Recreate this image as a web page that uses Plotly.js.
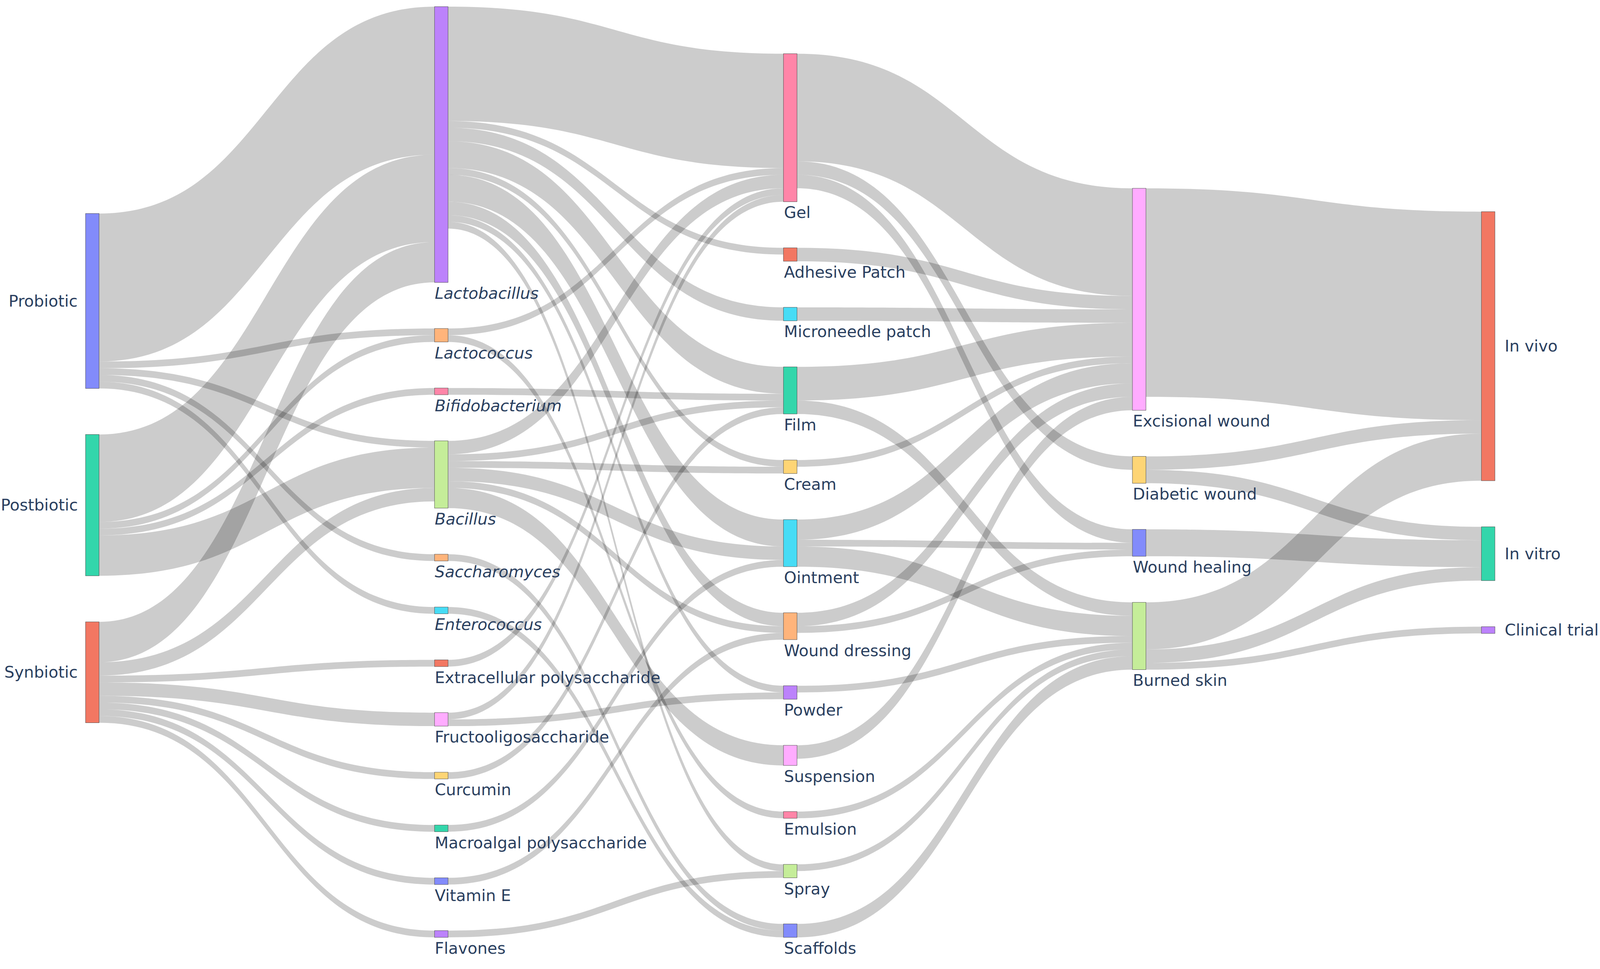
<!DOCTYPE html>
<html>
<head>
<meta charset="utf-8">
<script src="https://cdn.plot.ly/plotly-3.0.1.min.js"></script>
<style>
  html, body { margin: 0; padding: 0; background: #ffffff; overflow: hidden; }
  #chart { position: absolute; left: 0; top: 0; }
</style>
</head>
<body>
<div id="chart"></div>
<script>
// ---------------- DATA ----------------
// nodes, column by column, top to bottom
var nodeLabels = [
  "Probiotic", "Postbiotic", "Synbiotic",
  "Lactobacillus", "Lactococcus", "Bifidobacterium", "Bacillus", "Saccharomyces",
  "Enterococcus", "Extracellular polysaccharide", "Fructooligosaccharide", "Curcumin",
  "Macroalgal polysaccharide", "Vitamin E", "Flavones",
  "Gel", "Adhesive Patch", "Microneedle patch", "Film", "Cream", "Ointment",
  "Wound dressing", "Powder", "Suspension", "Emulsion", "Spray", "Scaffolds",
  "Excisional wound", "Diabetic wound", "Wound healing", "Burned skin",
  "In vivo", "In vitro", "Clinical trial"
];

// genus names shown in italics
var italicLabels = ["Lactobacillus", "Lactococcus", "Bifidobacterium", "Bacillus",
                    "Saccharomyces", "Enterococcus"];

var linkSource = [
  "Probiotic", "Probiotic", "Probiotic", "Probiotic", "Probiotic",
  "Postbiotic", "Postbiotic", "Postbiotic", "Postbiotic",
  "Synbiotic", "Synbiotic", "Synbiotic", "Synbiotic", "Synbiotic", "Synbiotic", "Synbiotic", "Synbiotic",
  "Lactobacillus", "Lactobacillus", "Lactobacillus", "Lactobacillus", "Lactobacillus",
  "Lactobacillus", "Lactobacillus", "Lactobacillus", "Lactobacillus",
  "Lactococcus", "Lactococcus",
  "Bifidobacterium",
  "Bacillus", "Bacillus", "Bacillus", "Bacillus", "Bacillus", "Bacillus",
  "Saccharomyces", "Enterococcus", "Extracellular polysaccharide",
  "Fructooligosaccharide", "Fructooligosaccharide",
  "Curcumin", "Macroalgal polysaccharide", "Vitamin E", "Flavones",
  "Gel", "Gel", "Gel", "Adhesive Patch", "Microneedle patch",
  "Film", "Film", "Cream",
  "Ointment", "Ointment", "Ointment",
  "Wound dressing", "Wound dressing",
  "Powder", "Suspension", "Emulsion", "Spray", "Scaffolds",
  "Excisional wound", "Diabetic wound", "Diabetic wound", "Wound healing",
  "Burned skin", "Burned skin", "Burned skin"
];

var linkTarget = [
  "Lactobacillus", "Lactococcus", "Bacillus", "Saccharomyces", "Enterococcus",
  "Lactobacillus", "Lactococcus", "Bifidobacterium", "Bacillus",
  "Lactobacillus", "Bacillus", "Extracellular polysaccharide", "Fructooligosaccharide",
  "Curcumin", "Macroalgal polysaccharide", "Vitamin E", "Flavones",
  "Gel", "Adhesive Patch", "Microneedle patch", "Film", "Cream",
  "Ointment", "Wound dressing", "Powder", "Spray",
  "Gel", "Emulsion",
  "Film",
  "Gel", "Film", "Cream", "Ointment", "Wound dressing", "Suspension",
  "Scaffolds", "Scaffolds", "Gel",
  "Gel", "Powder",
  "Film", "Ointment", "Wound dressing", "Spray",
  "Excisional wound", "Diabetic wound", "Wound healing", "Excisional wound", "Excisional wound",
  "Excisional wound", "Burned skin", "Excisional wound",
  "Excisional wound", "Wound healing", "Burned skin",
  "Excisional wound", "Wound healing",
  "Burned skin", "Excisional wound", "Burned skin", "Burned skin", "Burned skin",
  "In vivo", "In vivo", "In vitro", "In vitro",
  "In vivo", "In vitro", "Clinical trial"
];

var linkValue = [
  22, 1, 1, 1, 1,
  13, 1, 1, 6,
  6, 2, 1, 2, 1, 1, 1, 1,
  17, 1, 2, 4, 1,
  4, 2, 1, 1,
  1, 1,
  1,
  2, 1, 1, 2, 1, 3,
  1, 1, 1,
  1, 1,
  1, 1, 1, 1,
  16, 2, 2, 2, 2,
  5, 2, 1,
  3, 1, 3,
  2, 1,
  1, 2, 1, 1, 2,
  31, 2, 2, 4,
  7, 2, 1
];

// ---------------- STYLE ----------------
var pal = {
  blue: 'rgba(99,110,250,0.8)', red: 'rgba(239,85,59,0.8)', green: 'rgba(0,204,150,0.8)',
  purple: 'rgba(171,99,250,0.8)', orange: 'rgba(255,161,90,0.8)', cyan: 'rgba(25,211,243,0.8)',
  pink: 'rgba(255,102,146,0.8)', lime: 'rgba(182,232,128,0.8)', lpink: 'rgba(255,151,255,0.8)',
  yellow: 'rgba(254,203,82,0.8)'
};
var nodeColors = [
  pal.blue, pal.green, pal.red,
  pal.purple, pal.orange, pal.pink, pal.lime, pal.orange, pal.cyan, pal.red, pal.lpink,
  pal.yellow, pal.green, pal.blue, pal.purple,
  pal.pink, pal.red, pal.cyan, pal.green, pal.yellow, pal.cyan, pal.orange, pal.purple,
  pal.lpink, pal.pink, pal.lime, pal.blue,
  pal.lpink, pal.yellow, pal.blue, pal.lime,
  pal.red, pal.green, pal.purple
];

// ---------------- FIGURE ----------------
var W = window.innerWidth || 5792;
var H = window.innerHeight || 2481;
var sx = W / 5792, sy = H / 2481;
var fs = 55 * sx * 1.05;
var nodePad = 118 * sy;

var idx = function (name) { return nodeLabels.indexOf(name); };
var labelFont = { family: 'Verdana, "DejaVu Sans", sans-serif', size: fs, color: '#2a3f5f' };

function makeTrace(xs, ys) {
  var node = {
    label: nodeLabels.map(function () { return ''; }),
    customdata: nodeLabels,
    hovertemplate: '%{customdata}<extra></extra>',
    color: nodeColors,
    pad: nodePad,
    thickness: 49 * sx,
    line: { color: '#444', width: 1.25 * Math.min(sx, sy) }
  };
  if (xs && ys) { node.x = xs; node.y = ys; }
  return {
    type: 'sankey',
    orientation: 'h',
    arrangement: 'snap',
    node: node,
    link: {
      source: linkSource.map(idx),
      target: linkTarget.map(idx),
      value: linkValue
    },
    textfont: labelFont
  };
}

var layout = {
  width: W,
  height: H,
  margin: { l: 310 * sx, r: 380 * sx, t: 17 * sy, b: 81 * sy, pad: 0 },
  paper_bgcolor: '#ffffff',
  plot_bgcolor: '#ffffff',
  font: labelFont,
  showlegend: false
};
var config = { staticPlot: true, displayModeBar: false };

var gd = document.getElementById('chart');

// read the node boxes drawn by plotly, relative to the sankey domain
function readNodes() {
  var size = gd._fullLayout._size;
  var box = gd.getBoundingClientRect();
  var items = [];
  gd.querySelectorAll('.sankey-node').forEach(function (el) {
    var d = el.__data__;
    if (!d) return;
    var i = (d.index !== undefined) ? d.index : (d.node && d.node.pointNumber);
    var r = (el.querySelector('.node-rect') || el).getBoundingClientRect();
    items.push({ i: i,
      left: r.left - box.left - size.l, right: r.right - box.left - size.l,
      top: r.top - box.top - size.t, bottom: r.bottom - box.top - size.t });
  });
  return items;
}

Plotly.newPlot(gd, [makeTrace()], layout, config).then(function () {
  // keep plotly's columns and column offsets, keep the listed order inside each column
  var size = gd._fullLayout._size;
  var items = readNodes();
  var cols = {};
  items.forEach(function (o) {
    var k = Math.round(o.left);
    (cols[k] = cols[k] || []).push(o);
  });
  var xs = new Array(nodeLabels.length), ys = new Array(nodeLabels.length);
  Object.keys(cols).forEach(function (k) {
    var c = cols[k];
    var top = Math.min.apply(null, c.map(function (o) { return o.top; }));
    c.sort(function (a, b) { return a.i - b.i; });
    var y = top;
    c.forEach(function (o) {
      var h = o.bottom - o.top;
      xs[o.i] = ((o.left + o.right) / 2) / size.w;
      ys[o.i] = (y + h / 2) / size.h;
      y += h + nodePad;
    });
  });
  return Plotly.react(gd, [makeTrace(xs, ys)], layout, config);
}).then(function () {
  var size = gd._fullLayout._size;
  var items = readNodes();
  var minLeft = Math.min.apply(null, items.map(function (o) { return o.left; }));
  var maxRight = Math.max.apply(null, items.map(function (o) { return o.right; }));
  var px = function (x) { return x / size.w; };
  var py = function (y) { return 1 - y / size.h; };
  var anns = items.map(function (o) {
    var name = nodeLabels[o.i];
    var txt = italicLabels.indexOf(name) >= 0 ? '<i>' + name + '</i>' : name;
    var a = { text: txt, showarrow: false, xref: 'paper', yref: 'paper', font: labelFont, borderpad: 0 };
    if (Math.abs(o.left - minLeft) < 2) {
      a.x = px(o.left - 27 * sx); a.xanchor = 'right';
      a.y = py((o.top + o.bottom) / 2); a.yanchor = 'middle';
    } else if (Math.abs(o.right - maxRight) < 2) {
      a.x = px(o.right + 34 * sx); a.xanchor = 'left';
      a.y = py((o.top + o.bottom) / 2); a.yanchor = 'middle';
    } else {
      a.x = px(o.left); a.xanchor = 'left';
      a.y = py(o.bottom + 3 * sy); a.yanchor = 'top';
    }
    return a;
  });
  return Plotly.relayout(gd, { annotations: anns });
});
</script>
</body>
</html>
